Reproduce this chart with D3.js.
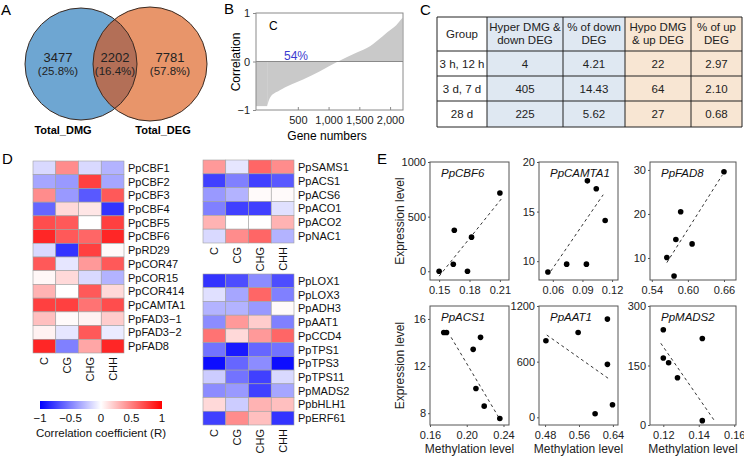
<!DOCTYPE html>
<html><head><meta charset="utf-8">
<script src="https://cdn.jsdelivr.net/npm/d3@7"></script>
<style>body{margin:0;background:#fff}svg{font-family:"Liberation Sans",Arial,sans-serif}</style>
</head><body><svg id="c" width="744" height="457"></svg>
<script>
// ---------- DATA ----------
// A: Venn
const vennSets = ["Total_DMG", "Total_DEG"];
const vennCounts = [3477, 2202, 7781];
const vennPercents = ["25.8%", "16.4%", "57.8%"];
// B: sorted correlation curve
const corrGeneIdx = [1, 50, 200, 585, 860, 1153, 1450, 1680, 1790, 1950, 2100, 2202];
const corrValues = [-0.92, -0.74, -0.6, -0.37, -0.2, 0, 0.18, 0.32, 0.43, 0.6, 0.75, 0.9];
const corrXTicks = [500, 1000, 1500, 2000];
const corrYTicks = [-1, 0, 1];
const corrContext = "C";
const negShare = "54%";
// C: table
const tableHeader = [["Group"], ["Hyper DMG &", "down DEG"], ["% of down", "DEG"], ["Hypo DMG", "& up DEG"], ["% of up", "DEG"]];
const tableGroups = ["3 h, 12 h", "3 d, 7 d", "28 d"];
const hyperDown = ["4", "405", "225"];
const pctDown = ["4.21", "14.43", "5.62"];
const hypoUp = ["22", "64", "27"];
const pctUp = ["2.97", "2.10", "0.68"];
// D: heatmaps
const contexts = ["C", "CG", "CHG", "CHH"];
const heatGenes1 = ["PpCBF1","PpCBF2","PpCBF3","PpCBF4","PpCBF5","PpCBF6","PpRD29","PpCOR47","PpCOR15","PpCOR414","PpCAMTA1","PpFAD3\u22121","PpFAD3\u22122","PpFAD8"];
const heatValues1 = [
  [-0.15, 0.45, -0.15, -0.3],
  [-0.35, -0.4, 0.75, -0.35],
  [0.45, -0.4, -0.65, 0.65],
  [-0.6, 0.15, 0.1, -0.8],
  [0.7, 0.65, 0.0, 0.75],
  [0.85, 0.65, 0.6, 0.85],
  [-0.15, -0.8, 0.75, 0.02],
  [0.65, -0.1, 0.4, 0.65],
  [0.03, 0.15, -0.15, -0.3],
  [0.3, 0.0, 0.65, 0.15],
  [0.75, 0.75, 0.55, 0.7],
  [0.25, 0.02, 0.05, 0.2],
  [0.05, -0.1, 0.65, -0.08],
  [0.85, -0.5, 0.35, 0.85]
];
const heatGenes2 = ["PpSAMS1","PpACS1","PpACS6","PpACO1","PpACO2","PpNAC1"];
const heatValues2 = [
  [0.4, -0.1, 0.6, 0.45],
  [-0.75, -0.5, -0.75, -0.65],
  [-0.4, -0.3, 0.02, 0.02],
  [-0.5, -0.75, -0.75, -0.12],
  [0.3, 0.0, 0.0, 0.3],
  [-0.15, 0.45, 0.6, -0.3]
];
const heatGenes3 = ["PpLOX1","PpLOX3","PpADH3","PpAAT1","PpCCD4","PpTPS1","PpTPS3","PpTPS11","PpMADS2","PpbHLH1","PpERF61"];
const heatValues3 = [
  [-0.8, -0.7, -0.45, -0.7],
  [-0.12, -0.35, 0.6, -0.5],
  [-0.3, -0.3, -0.4, 0.02],
  [-0.45, 0.4, 0.2, -0.5],
  [0.55, 0.15, 0.4, 0.6],
  [-0.55, -0.9, -0.6, -0.55],
  [-0.95, -0.6, -0.45, -0.95],
  [-0.2, -0.55, -0.75, -0.15],
  [-0.45, -0.4, -0.75, -0.35],
  [0.15, -0.2, 0.3, 0.25],
  [-0.75, 0.45, 0.25, -0.8]
];
const legendTicks = [-1, -0.5, 0, 0.5, 1];
const legendTitle = "Correlation coefficient (R)";
// E: scatter plots
const scatterGenes = ["PpCBF6", "PpCAMTA1", "PpFAD8", "PpACS1", "PpAAT1", "PpMADS2"];
const scatterMeth = [
  [0.150, 0.165, 0.164, 0.178, 0.182, 0.210],
  [0.055, 0.074, 0.094, 0.095, 0.104, 0.113],
  [0.565, 0.577, 0.580, 0.588, 0.607, 0.660],
  [0.175, 0.178, 0.207, 0.215, 0.210, 0.219, 0.236],
  [0.482, 0.558, 0.627, 0.627, 0.598, 0.639],
  [0.120, 0.120, 0.123, 0.128, 0.142, 0.142]
];
const scatterExpr = [
  [0, 376, 64, 0, 312, 716],
  [8.9, 9.7, 9.7, 18.1, 17.3, 14.1],
  [10.1, 5.9, 14.2, 20.5, 13.2, 29.6],
  [14.85, 14.85, 13.42, 14.44, 10.1, 8.6, 7.55],
  [825, 915, 1059, 571, 39, 136],
  [240, 169, 157, 119, 218, 11]
];
const trendLines = [
  [[0.150, -45], [0.213, 680]],
  [[0.058, 9.0], [0.111, 16.7]],
  [[0.565, 8.95], [0.657, 28.8]],
  [[0.183, 14.44], [0.235, 7.63]],
  [[0.484, 887], [0.629, 420]],
  [[0.1186, 206], [0.1486, 12.5]]
];
const scatterXTicks = [[0.15, 0.18, 0.21], [0.06, 0.09, 0.12], [0.54, 0.60, 0.66], [0.16, 0.20, 0.24], [0.48, 0.56, 0.64], [0.12, 0.14, 0.16]];
const scatterYTicks = [[0, 500, 1000], [10, 15, 20], [10, 20, 30], [8, 12, 16], [0, 600, 1200], [0, 150, 300]];
const scatterXDomains = [[0.141, 0.219], [0.046, 0.126], [0.537, 0.68], [0.16, 0.246], [0.4657, 0.652], [0.1125, 0.161]];
const scatterYDomains = [[-80, 1000], [8.1, 20], [5, 31.8], [7, 17.1], [-83, 1200], [0, 300]];

// ---------- DRAW ----------
const svg = d3.select("#c");
const panelLetter = (t, x, y) => svg.append("text").attr("x", x).attr("y", y).attr("font-size", 15).text(t);

// ===== A =====
panelLetter("A", 1, 15);
const gA = svg.append("g");
const cB = {x: 81, y: 64, r: 56}, cO = {x: 150, y: 64, r: 57};
svg.append("defs").append("clipPath").attr("id", "clipBlue")
  .append("circle").attr("cx", cB.x).attr("cy", cB.y).attr("r", cB.r);
gA.append("circle").attr("cx", cB.x).attr("cy", cB.y).attr("r", cB.r).attr("fill", "#6ea6d2");
gA.append("circle").attr("cx", cO.x).attr("cy", cO.y).attr("r", cO.r).attr("fill", "#e8956a");
gA.append("circle").attr("cx", cO.x).attr("cy", cO.y).attr("r", cO.r).attr("fill", "#b36f57").attr("clip-path", "url(#clipBlue)");
[cB, cO].forEach(c => gA.append("circle").attr("cx", c.x).attr("cy", c.y).attr("r", c.r).attr("fill", "none").attr("stroke", "#3a2a22").attr("stroke-width", 1));
const vennX = [58, 115, 170];
vennCounts.forEach((v, i) => {
  gA.append("text").attr("x", vennX[i]).attr("y", 62).attr("text-anchor", "middle").attr("font-size", 13).attr("fill", "#222").text(v);
  gA.append("text").attr("x", vennX[i]).attr("y", 75).attr("text-anchor", "middle").attr("font-size", 11.5).attr("fill", "#222").text("(" + vennPercents[i] + ")");
});
gA.append("text").attr("x", 63).attr("y", 134).attr("text-anchor", "middle").attr("font-size", 11).attr("font-weight", "bold").text(vennSets[0]);
gA.append("text").attr("x", 163).attr("y", 134).attr("text-anchor", "middle").attr("font-size", 11).attr("font-weight", "bold").text(vennSets[1]);

// ===== B =====
panelLetter("B", 224, 14);
const bx = d3.scaleLinear().domain([-180, 2210]).range([256, 403]);
const by = d3.scaleLinear().domain([-1, 1]).range([110, 13]);
const gB = svg.append("g");
const corrData = corrGeneIdx.map((g, i) => ({g, v: corrValues[i]}));
gB.append("path").datum(corrData)
  .attr("d", d3.area().x(d => bx(d.g)).y0(by(0)).y1(d => by(d.v)).curve(d3.curveMonotoneX))
  .attr("fill", "#c9c9c9");
gB.append("path").datum([{g: -180, v: corrValues[0]}, corrData[0]])
  .attr("d", d3.area().x(d => bx(d.g)).y0(by(0)).y1(d => by(d.v)))
  .attr("fill", "#c9c9c9");
gB.append("line").attr("x1", bx.range()[0]).attr("x2", bx.range()[1]).attr("y1", by(0)).attr("y2", by(0)).attr("stroke", "#8a8a8a").attr("stroke-width", 1);
gB.append("rect").attr("x", 256).attr("y", 13).attr("width", 147).attr("height", 97).attr("fill", "none").attr("stroke", "#8a8a8a");
const axBL = gB.append("g").attr("transform", "translate(256,0)").call(d3.axisLeft(by).tickValues(corrYTicks).tickSize(3).tickFormat(d3.format("d")));
const axBB = gB.append("g").attr("transform", "translate(0,110)").call(d3.axisBottom(bx).tickValues(corrXTicks).tickSize(-3).tickPadding(6));
[axBL, axBB].forEach(a => { a.select(".domain").remove(); a.selectAll("line").attr("stroke", "#8a8a8a"); a.selectAll("text").attr("font-size", 11).attr("fill", "#222").attr("font-family", "Liberation Sans, Arial, sans-serif"); });
gB.append("text").attr("transform", "translate(240,62) rotate(-90)").attr("text-anchor", "middle").attr("font-size", 12).text("Correlation");
gB.append("text").attr("x", 327).attr("y", 140).attr("text-anchor", "middle").attr("font-size", 12).text("Gene numbers");
gB.append("text").attr("x", 269).attr("y", 30).attr("font-size", 12).text(corrContext);
gB.append("text").attr("x", 296).attr("y", 60).attr("text-anchor", "middle").attr("font-size", 12).attr("fill", "#3b3bd0").text(negShare);

// ===== C =====
panelLetter("C", 420, 15);
const gC = svg.append("g");
const colX = [437, 487, 563, 625, 691, 742];
const rowY = [17, 51, 76, 101, 127];
const colFill = ["#ffffff", "#dfe8f2", "#dfe8f2", "#f8e6d3", "#f8e6d3"];
const tableRows = tableGroups.map((g, i) => [g, hyperDown[i], pctDown[i], hypoUp[i], pctUp[i]]);
for (let c = 0; c < 5; c++) {
  gC.append("rect").attr("x", colX[c]).attr("y", rowY[0]).attr("width", colX[c + 1] - colX[c]).attr("height", rowY[4] - rowY[0]).attr("fill", colFill[c]);
  const hdr = tableHeader[c];
  const cx = (colX[c] + colX[c + 1]) / 2;
  hdr.forEach((t, k) => {
    const yy = hdr.length === 1 ? 38 : 31 + k * 13;
    gC.append("text").attr("x", cx).attr("y", yy).attr("text-anchor", "middle").attr("font-size", 11.5).attr("fill", "#222").text(t);
  });
  tableRows.forEach((r, i) => {
    gC.append("text").attr("x", cx).attr("y", (rowY[i + 1] + rowY[i + 2]) / 2 + 4).attr("text-anchor", "middle").attr("font-size", 11.5).attr("fill", "#222").text(r[c]);
  });
}
colX.forEach(x => gC.append("line").attr("x1", x).attr("x2", x).attr("y1", rowY[0]).attr("y2", rowY[4]).attr("stroke", "#222"));
rowY.forEach(y => gC.append("line").attr("x1", colX[0]).attr("x2", colX[5]).attr("y1", y).attr("y2", y).attr("stroke", "#222"));

// ===== D =====
panelLetter("D", 2, 164);
const heatColor = d3.scaleLinear().domain([-1, 0, 1]).range(["#0000ff", "#ffffff", "#ff0000"]);
function heatmap(genes, values, x0, x1, y0, y1, showCols) {
  const g = svg.append("g");
  const xs = d3.scaleBand().domain(contexts).range([x0, x1]);
  const ys = d3.scaleBand().domain(genes).range([y0, y1]);
  genes.forEach((gn, i) => {
    contexts.forEach((c, j) => {
      g.append("rect").attr("x", xs(c)).attr("y", ys(gn)).attr("width", xs.bandwidth()).attr("height", ys.bandwidth())
        .attr("fill", heatColor(values[i][j])).attr("stroke", "#a0a0a0").attr("stroke-width", 0.6);
    });
    g.append("text").attr("x", x1 + 4).attr("y", ys(gn) + ys.bandwidth() / 2 + 4).attr("font-size", 11).attr("fill", "#111").text(gn);
  });
  if (showCols) {
    contexts.forEach(c => {
      g.append("text").attr("transform", `translate(${xs(c) + xs.bandwidth() / 2 + 4},${y1 + 4}) rotate(-90)`)
        .attr("text-anchor", "end").attr("font-size", 11).attr("fill", "#111").text(c);
    });
  }
}
heatmap(heatGenes1, heatValues1, 33, 124, 161, 353, true);
heatmap(heatGenes2, heatValues2, 203, 294, 160, 243, true);
heatmap(heatGenes3, heatValues3, 203, 294, 274, 425, true);
const defs = svg.select("defs");
const grad = defs.append("linearGradient").attr("id", "rg");
legendTicks.forEach(t => grad.append("stop").attr("offset", ((t + 1) / 2 * 100) + "%").attr("stop-color", heatColor(t)));
const lx = d3.scaleLinear().domain([-1, 1]).range([40, 162]);
svg.append("rect").attr("x", 40).attr("y", 401).attr("width", 122).attr("height", 8).attr("fill", "url(#rg)");
legendTicks.forEach(t => svg.append("text").attr("x", lx(t)).attr("y", 422).attr("text-anchor", "middle").attr("font-size", 11.5).attr("fill", "#111").text(t < 0 ? "\u2212" + Math.abs(t) : t));
svg.append("text").attr("x", 101).attr("y", 437).attr("text-anchor", "middle").attr("font-size", 11.5).attr("fill", "#111").text(legendTitle);

// ===== E =====
panelLetter("E", 377, 164);
const colsE = [[430, 509], [539, 618], [650, 736]];
const rowsE = [[162, 280], [306, 425]];
scatterGenes.forEach((gene, i) => {
  const c = colsE[i % 3], r = rowsE[Math.floor(i / 3)];
  const xs = d3.scaleLinear().domain(scatterXDomains[i]).range(c);
  const ys = d3.scaleLinear().domain(scatterYDomains[i]).range([r[1], r[0]]);
  const g = svg.append("g");
  g.append("rect").attr("x", c[0]).attr("y", r[0]).attr("width", c[1] - c[0]).attr("height", r[1] - r[0]).attr("fill", "none").attr("stroke", "#555");
  const ax = g.append("g").attr("transform", `translate(0,${r[1]})`).call(d3.axisBottom(xs).tickValues(scatterXTicks[i]).tickSize(2).tickPadding(4).tickFormat(d3.format(".2f")));
  const ay = g.append("g").attr("transform", `translate(${c[0]},0)`).call(d3.axisLeft(ys).tickValues(scatterYTicks[i]).tickSize(2).tickPadding(2).tickFormat(d3.format("d")));
  [ax, ay].forEach(a => { a.select(".domain").remove(); a.selectAll("line").attr("stroke", "#555"); a.selectAll("text").attr("font-size", 11).attr("fill", "#222").attr("font-family", "Liberation Sans, Arial, sans-serif"); });
  const tl = trendLines[i];
  g.append("line").attr("x1", xs(tl[0][0])).attr("y1", ys(tl[0][1])).attr("x2", xs(tl[1][0])).attr("y2", ys(tl[1][1]))
    .attr("stroke", "#333").attr("stroke-width", 1).attr("stroke-dasharray", "3,3");
  scatterMeth[i].forEach((m, k) => {
    g.append("circle").attr("cx", xs(m)).attr("cy", ys(scatterExpr[i][k])).attr("r", 2.8).attr("fill", "#000");
  });
  g.append("text").attr("x", c[0] + 11).attr("y", r[0] + 15).attr("font-size", 11.5).attr("font-style", "italic").attr("fill", "#111").text(gene);
  if (i >= 3) g.append("text").attr("x", (c[0] + c[1]) / 2).attr("y", 453).attr("text-anchor", "middle").attr("font-size", 12).attr("fill", "#222").text("Methylation level");
});
rowsE.forEach(r => svg.append("text").attr("transform", `translate(404,${(r[0] + r[1]) / 2}) rotate(-90)`).attr("text-anchor", "middle").attr("font-size", 12).attr("fill", "#222").text("Expression level"));
</script></body></html>
